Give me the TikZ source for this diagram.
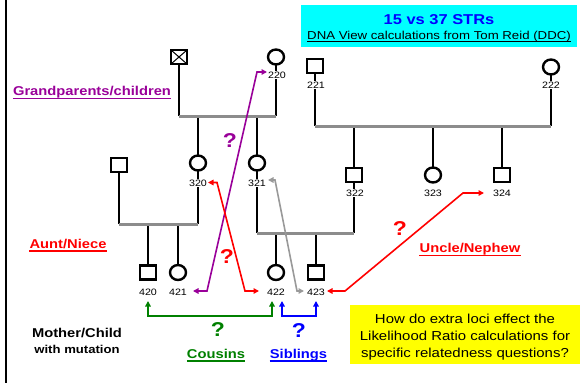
\documentclass[tikz,border=0pt]{standalone}
\usepackage{fontspec}
\setmainfont{Liberation Sans}[FakeStretch=1.15]
\usetikzlibrary{arrows.meta,shapes.geometric}
\definecolor{ppl}{HTML}{990099}
\definecolor{grn}{HTML}{008000}
\definecolor{blu}{HTML}{0000FF}
\definecolor{rd}{HTML}{FF0000}
\definecolor{gry}{HTML}{999999}
\definecolor{sibgray}{HTML}{8C8C8C}
\definecolor{cyn}{HTML}{00FFFF}
\definecolor{ylw}{HTML}{FFFF00}
\pgfdeclarelayer{bg}
\pgfsetlayers{bg,main}
\begin{document}
\begin{tikzpicture}[x=1pt,y=-1pt,
  male/.style={rectangle, draw=black, line width=2.4pt, minimum width=16pt, minimum height=14pt, inner sep=0pt, fill=white},
  crossed/.style={male, path picture={\draw[line width=1pt] (path picture bounding box.north west) -- (path picture bounding box.south east) (path picture bounding box.north east) -- (path picture bounding box.south west);}},
  female/.style={ellipse, draw=black, line width=2.4pt, minimum width=16pt, minimum height=15pt, inner sep=0pt, fill=white},
  pidlabel/.style={fill=white, inner sep=1pt, font=\fontsize{9.3}{10}\selectfont},
  ped/.style={line width=2.6pt, black},
  sib/.style={line width=3pt, sibgray},
  arr/.style={line width=1.6pt, line join=miter, {Triangle[length=5.5pt,width=5.5pt]}-{Triangle[length=5.5pt,width=5.5pt]}},
  qm/.style={font=\fontsize{20}{20}\selectfont\bfseries},
  rel/.style={inner sep=0pt, font=\fontsize{12.8}{14}\selectfont\bfseries, anchor=base},
  ulin/.style={line width=1.6pt},
  ytext/.style={inner sep=0pt, font=\fontsize{13}{15}\selectfont, anchor=base}
]
\useasboundingbox (0,0) rectangle (587,383);

% left border
\draw[line width=2pt] (6,0) -- (6,383);

% info boxes
\node[fill=cyn, minimum width=276pt, minimum height=42pt, inner sep=0pt, anchor=north west] (cyanbox) at (301,5) {};
\node[anchor=base, inner sep=0pt, text=blu, font=\fontsize{14.3}{16}\selectfont\bfseries] (t15) at (439,24) {15 vs 37 STRs};
\node[anchor=base, inner sep=0pt, font=\fontsize{11.5}{13}\selectfont] (tdna) at (439,39) {DNA View calculations from Tom Reid (DDC)};
\draw[line width=0.8pt] ([yshift=-2.6pt]tdna.base west) -- ([yshift=-2.6pt]tdna.base east);

\node[fill=ylw, minimum width=230pt, minimum height=59pt, inner sep=0pt, anchor=north west] (qbox) at (350,305) {};
\node[ytext] (y1) at (465,323) {How do extra loci effect the};
\node[ytext] (y2) at (465,340) {Likelihood Ratio calculations for};
\node[ytext] (y3) at (465,357) {specific relatedness questions?};

% generation 1
\node[crossed] (g220f) at (179,57) {};
\node[female] (g220) at (276,57) {};
\node[male] (g221) at (315,66) {};
\node[female] (g222) at (551,67) {};
% generation 2
\node[male] (p319) at (119,165) {};
\node[female] (p320) at (198,163) {};
\node[female] (p321) at (257,163) {};
\node[male] (p322) at (354,175) {};
\node[female] (p323) at (433,175) {};
\node[male] (p324) at (502,175) {};
% generation 3
\node[male] (p420) at (148,272.5) {};
\node[female] (p421) at (178,272.5) {};
\node[female] (p422) at (276,272.5) {};
\node[male] (p423) at (316,272.5) {};

% sibship coordinates
\coordinate (s1a) at (179,116); \coordinate (s1b) at (276,116);
\coordinate (s1c) at (198,116); \coordinate (s1d) at (257,116);
\coordinate (s2a) at (315,126); \coordinate (s2b) at (551,126);
\coordinate (s2c) at (354,126); \coordinate (s2d) at (433,126); \coordinate (s2e) at (502,126);
\coordinate (s3a) at (119,224); \coordinate (s3b) at (198,224);
\coordinate (s3c) at (148,224); \coordinate (s3d) at (178,224);
\coordinate (s4a) at (257,233); \coordinate (s4b) at (354,233);
\coordinate (s4c) at (276,233); \coordinate (s4d) at (316,233);

\begin{pgfonlayer}{bg}
  \draw[ped] (g220f.center) -- (s1a) (g220.center) -- (s1b) (s1c) -- (p320.center) (s1d) -- (p321.center);
  \draw[ped] (g221.center) -- (s2a) (g222.center) -- (s2b) (s2c) -- (p322.center) (s2d) -- (p323.center) (s2e) -- (p324.center);
  \draw[ped] (p319.center) -- (s3a) (p320.center) -- (s3b) (s3c) -- (p420.center) (s3d) -- (p421.center);
  \draw[ped] (p321.center) -- (s4a) (p322.center) -- (s4b) (s4c) -- (p422.center) (s4d) -- (p423.center);
  \draw[sib] (s1a) -- (s1b);
  \draw[sib] (s2a) -- (s2b);
  \draw[sib] (s3a) -- (s3b);
  \draw[sib] (s4a) -- (s4b);
\end{pgfonlayer}

% id labels
\node[pidlabel] (l220) at (277,75) {220};
\node[pidlabel] (l221) at (316,85) {221};
\node[pidlabel] (l222) at (551,85) {222};
\node[pidlabel] (l320) at (198,183) {320};
\node[pidlabel] (l321) at (257,183) {321};
\node[pidlabel] (l322) at (355,193) {322};
\node[pidlabel] (l323) at (433,193) {323};
\node[pidlabel] (l324) at (502,193) {324};
\node[pidlabel] (l420) at (148,292) {420};
\node[pidlabel] (l421) at (178,292) {421};
\node[pidlabel] (l422) at (276,292) {422};
\node[pidlabel] (l423) at (316,292) {423};

% relationship arrows
\coordinate (pt1) at (193,291); \coordinate (pc1) at (207,291);
\coordinate (pc2) at (257,72);  \coordinate (pt2) at (267,72);
\draw[arr, ppl] (pt1) -- (pc1) -- (pc2) -- (pt2);

\coordinate (at1) at (208,182.5); \coordinate (ac1) at (217,182.5);
\coordinate (ac2) at (245,291);   \coordinate (at2) at (259,291);
\draw[arr, rd] (at1) -- (ac1) -- (ac2) -- (at2);

\coordinate (gt1) at (268,180); \coordinate (gc1) at (275,180);
\coordinate (gc2) at (297,291); \coordinate (gt2) at (304,291);
\draw[arr, gry] (gt1) -- (gc1) -- (gc2) -- (gt2);

\coordinate (ut1) at (327,291); \coordinate (uc1) at (345,291);
\coordinate (uc2) at (463,193); \coordinate (ut2) at (484,193);
\draw[arr, rd] (ut1) -- (uc1) -- (uc2) -- (ut2);

\coordinate (ct1) at (148,301); \coordinate (cc1) at (148,316);
\coordinate (cc2) at (272,316); \coordinate (ct2) at (272,301);
\draw[arr, grn] (ct1) -- (cc1) -- (cc2) -- (ct2);

\coordinate (bt1) at (282,301); \coordinate (bc1) at (282,316);
\coordinate (bc2) at (316,316); \coordinate (bt2) at (316,301);
\draw[arr, blu] (bt1) -- (bc1) -- (bc2) -- (bt2);

% question marks
\node[qm, text=ppl] (q1) at (230,141) {?};
\node[qm, text=rd] (q2) at (227,257) {?};
\node[qm, text=rd] (q3) at (400,229) {?};
\node[qm, text=grn] (q4) at (218,330) {?};
\node[qm, text=blu] (q5) at (299,331) {?};

% relationship labels
\node[rel, text=ppl] (gp) at (92,95.5) {Grandparents/children};
\draw[ulin, ppl] ([yshift=-3pt]gp.base west) -- ([yshift=-3pt]gp.base east);
\node[rel, text=rd] (an) at (68,248) {Aunt/Niece};
\draw[ulin, rd] ([yshift=-3pt]an.base west) -- ([yshift=-3pt]an.base east);
\node[rel, text=rd] (un) at (470,252.5) {Uncle/Nephew};
\draw[ulin, rd] ([yshift=-3pt]un.base west) -- ([yshift=-3pt]un.base east);
\node[rel, text=grn] (cu) at (216,358) {Cousins};
\draw[ulin, grn] ([yshift=-3pt]cu.base west) -- ([yshift=-3pt]cu.base east);
\node[rel, text=blu] (sb) at (298.5,358) {Siblings};
\draw[ulin, blu] ([yshift=-3pt]sb.base west) -- ([yshift=-3pt]sb.base east);

\node[rel] (mc) at (77,337) {Mother/Child};
\node[rel, font=\fontsize{11.4}{13}\selectfont\bfseries] (wm) at (77,353) {with mutation};
\end{tikzpicture}
\end{document}
